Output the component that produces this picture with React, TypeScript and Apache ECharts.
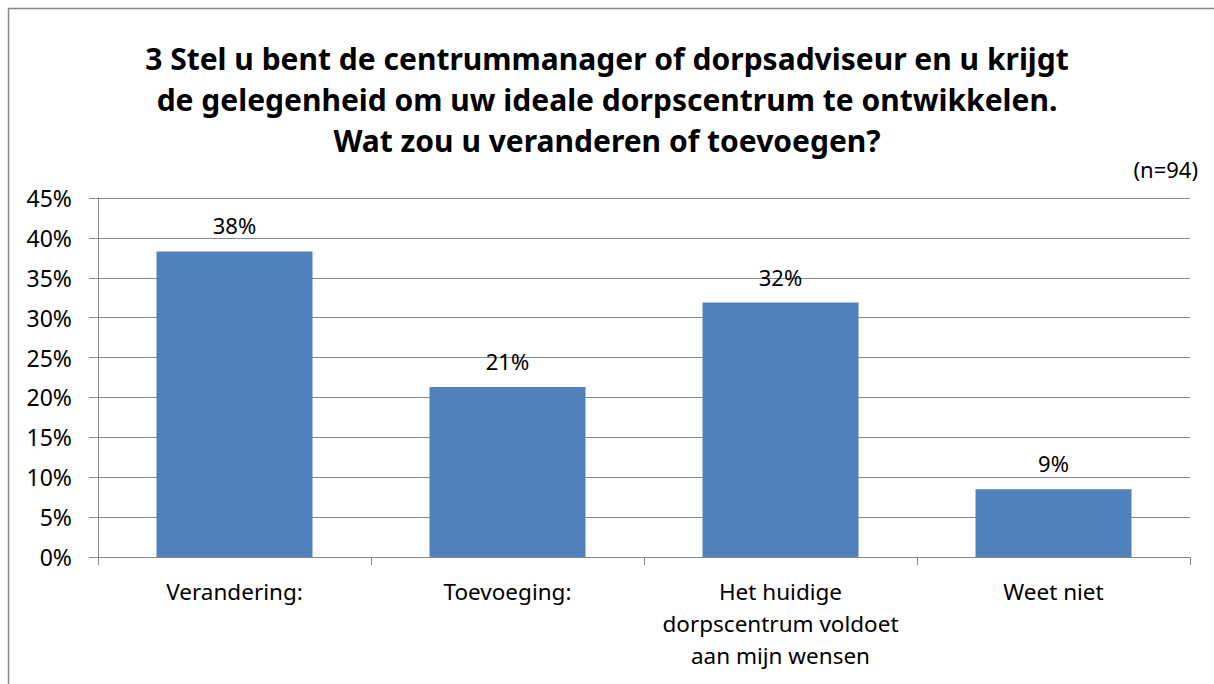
import React, { useEffect, useRef } from "react";
import * as echarts from "echarts";

const categories = [
  "Verandering:",
  "Toevoeging:",
  "Het huidige\ndorpscentrum voldoet\naan mijn wensen",
  "Weet niet",
];
const values = [38.3, 21.3, 31.9, 8.5];
const titleText =
  "3 Stel u bent de centrummanager of dorpsadviseur en u krijgt\nde gelegenheid om uw ideale dorpscentrum te ontwikkelen.\nWat zou u veranderen of toevoegen?";
const noteText = "(n=94)";

const FONT = "'Noto Sans', 'Open Sans', sans-serif";

export default function App() {
  const ref = useRef<HTMLDivElement>(null);
  useEffect(() => {
    document.body.style.margin = "0";
    const chart = echarts.init(ref.current!, null, { renderer: "svg" });
    chart.setOption({
      animation: false,
      backgroundColor: "#fff",
      textStyle: { fontFamily: FONT },
      title: {
        text: titleText,
        left: "center",
        top: 33,
        textStyle: {
          fontFamily: FONT,
          fontSize: 30,
          fontWeight: "bold",
          color: "#000",
          lineHeight: 41,
          align: "center",
        },
      },
      graphic: [
        {
          type: "rect",
          shape: { x: 8.5, y: 8.5, width: 1400, height: 1000 },
          style: { fill: "none", stroke: "#878787", lineWidth: 1.5 },
          silent: true,
        },
        {
          type: "text",
          right: 16,
          top: 158,
          style: { text: noteText, font: `22px ${FONT}`, fill: "#000" },
        },
      ],
      grid: { left: 98, right: 24, top: 198, bottom: 127, containLabel: false },
      xAxis: {
        type: "category",
        data: categories,
        axisLine: { lineStyle: { color: "#888", width: 1 } },
        axisTick: { show: true, length: 8, lineStyle: { color: "#888" } },
        axisLabel: {
          color: "#000",
          fontSize: 22.5,
          lineHeight: 32,
          margin: 18,
          interval: 0,
          fontFamily: FONT,
        },
      },
      yAxis: {
        type: "value",
        min: 0,
        max: 45,
        interval: 5,
        axisLine: { show: true, lineStyle: { color: "#888" } },
        axisTick: { show: true, length: 9, lineStyle: { color: "#888" } },
        axisLabel: {
          color: "#000",
          fontSize: 23,
          margin: 26,
          formatter: (v: number) => `${v}%`,
          fontFamily: FONT,
        },
        splitLine: { lineStyle: { color: "#888", width: 1 } },
      },
      series: [
        {
          type: "bar",
          data: values,
          barWidth: 156,
          itemStyle: { color: "#4F81BD" },
          label: {
            show: true,
            position: "top",
            distance: 15,
            color: "#000",
            fontSize: 22,
            fontFamily: FONT,
            formatter: (p: any) => `${Math.round(p.value)}%`,
          },
        },
      ],
    });
    return () => chart.dispose();
  }, []);
  return <div ref={ref} style={{ width: 1214, height: 684 }} />;
}
